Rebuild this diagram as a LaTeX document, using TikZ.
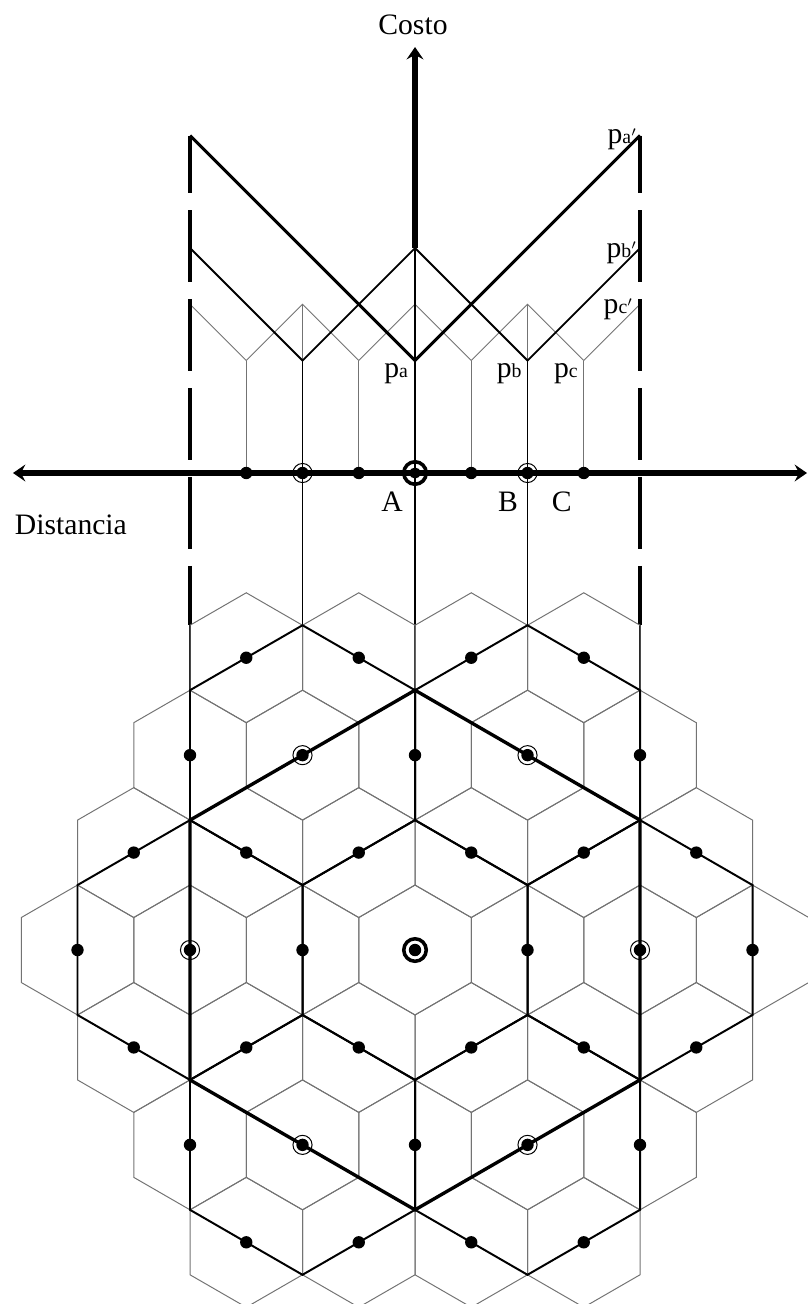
\documentclass[tikz,border=0pt]{standalone}
\usepackage{fontspec}
\setmainfont{Liberation Serif}
\usetikzlibrary{arrows.meta,calc}

\tikzset{
  axisline/.style={line width=2.7pt},
  costa/.style={line width=1.5pt},
  costb/.style={line width=0.9pt},
  costc/.style={line width=0.5pt, black!55},
  guide/.style={line width=0.6pt},
  limitline/.style={line width=1.8pt, dash pattern=on 1.28cm off 0.3cm, dash phase=0.25cm},
  cell/.style={line width=0.5pt, black!55},
  marketb/.style={line width=1pt},
  marketa/.style={line width=1.7pt},
  ringb/.style={line width=0.5pt},
  ringa/.style={line width=1.8pt},
  lbl/.style={font=\fontsize{15}{18}\selectfont, inner sep=0pt},
  axtip/.tip={Stealth[length=2.2mm, width=3mm, inset=0.8mm]}
}
\newcommand\sub[1]{{\fontsize{10}{10}\selectfont #1}}
\newcommand\hexagon[1]{+(30:#1) -- +(90:#1) -- +(150:#1) -- +(210:#1) -- +(270:#1) -- +(330:#1) -- cycle}

\begin{document}
\begin{tikzpicture}
  \useasboundingbox (-7.378,-14.773) rectangle (6.969,8.409);
  \coordinate (O) at (0,0);
  \coordinate (C) at (0,-8.48);
  \coordinate (Lend) at ($(C)+(-4,5.7735)$);
  \coordinate (Rend) at ($(C)+(4,5.7735)$);
  \coordinate (Lcut) at ($(C)+(-4,4.6188)$);
  \coordinate (Rcut) at ($(C)+(4,4.6188)$);
  \coordinate (Bl) at ($(C)+(-2,5.7735)$);
  \coordinate (Br) at ($(C)+(2,5.7735)$);
  \coordinate (Atop) at ($(C)+(0,4.6188)$);

  \draw[costc] (-4,3) -- (-3,2) -- (-2,3) -- (-1,2) -- (0,3) -- (1,2) -- (2,3) -- (3,2) -- (4,3);
  \foreach \x in {-3,-1,1,3} \draw[costc] (\x,2) -- (\x,0);
  \draw[costc] (-2,3) -- (-2,2);
  \draw[costc] (2,3) -- (2,2);
  \draw[costb] (-4,4) -- (-2,2) -- (0,4) -- (2,2) -- (4,4);
  \draw[costb] (-2,2) -- (-2,0);
  \draw[costb] (2,2) -- (2,0);
  \draw[guide] (0,4) -- (0,2);
  \draw[costa] (-4,6) -- (0,2) -- (4,6);
  \draw[costa] (0,2) -- (O);
  \draw[axisline, -{axtip}] (0,4) -- (0,7.573);
  \draw[axisline, {axtip}-{axtip}] (-7.147,0) -- (6.969,0);

  \draw[limitline] (-4,6) -- (Lend);
  \draw[limitline] (4,6) -- (Rend);
  \draw[guide] (Lend) -- (Lcut);
  \draw[guide] (Rend) -- (Rcut);
  \draw[guide] (-2,0) -- (Bl);
  \draw[guide] (2,0) -- (Br);
  \draw[guide] (O) -- (Atop);

  \foreach \x in {-3,-1,1,3} \fill (\x,0) circle (0.11);
  \foreach \x in {-2,2} {
    \fill (\x,0) circle (0.11);
    \draw[ringb] (\x,0) circle (0.17);
  }
  \fill (O) circle (0.1);
  \draw[ringa] (O) circle (0.2);

  \node[lbl] (costo) at (-0.036,7.80) [anchor=base] {Costo};
  \node[lbl] (dist) at (-7.12,-1.10) [anchor=base west] {Distancia};
  \node[lbl] (la) at (-0.409,-0.693) [anchor=base] {A};
  \node[lbl] (lb) at (1.653,-0.693) [anchor=base] {B};
  \node[lbl] (lc) at (2.61,-0.693) [anchor=base] {C};
  \node[lbl] (pa) at (-0.12,1.69) [anchor=base east] {p\sub{a}};
  \node[lbl] (pb) at (1.9,1.69) [anchor=base east] {p\sub{b}};
  \node[lbl] (pc) at (2.9,1.69) [anchor=base east] {p\sub{c}};
  \node[lbl] (paa) at (3.95,5.85) [anchor=base east] {p\sub{a$'$}};
  \node[lbl] (pbb) at (3.95,3.84) [anchor=base east] {p\sub{b$'$}};
  \node[lbl] (pcc) at (3.88,2.83) [anchor=base east] {p\sub{c$'$}};

  \foreach \col in {-3,...,3}
    \foreach \row in {-3,...,3} {
      \pgfmathtruncatemacro\far{abs(\col+\row)}
      \ifnum\far<4
        \draw[cell] ($(C)+(2*\col+\row,1.7320508*\row)$) \hexagon{1.1547};
      \fi
    }
  \draw[marketb] (C) \hexagon{2.3094};
  \foreach \a in {0,60,...,300}
    \draw[marketb] ($(C)+(\a:4)$) \hexagon{2.3094};
  \draw[marketa] (C) \hexagon{4.6188};

  \foreach \col in {-3,...,3}
    \foreach \row in {-3,...,3} {
      \pgfmathtruncatemacro\far{abs(\col+\row)}
      \ifnum\far<4
        \fill ($(C)+(2*\col+\row,1.7320508*\row)$) circle (0.11);
      \fi
    }
  \foreach \a in {0,60,...,300}
    \draw[ringb] ($(C)+(\a:4)$) circle (0.17);
  \draw[ringa] (C) circle (0.2);
\end{tikzpicture}
\end{document}
